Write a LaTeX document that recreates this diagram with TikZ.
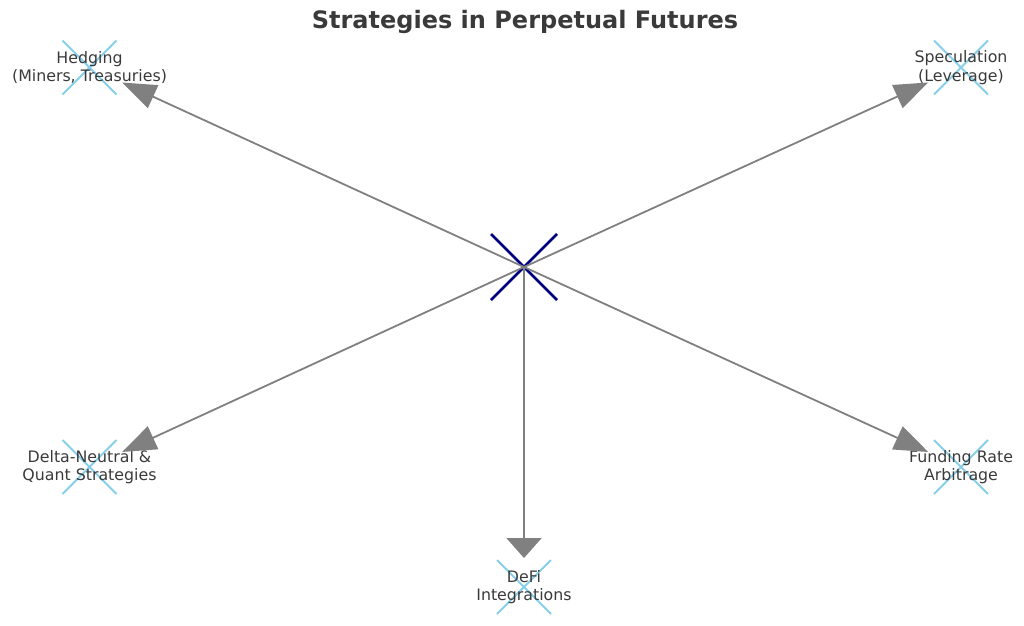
\documentclass[tikz,border=0pt]{standalone}
\usepackage{fontspec}
\setmainfont{DejaVu Sans}
\usetikzlibrary{arrows.meta}
\definecolor{pfeilgrau}{HTML}{808080}
\definecolor{textgrau}{HTML}{3A3A3A}
\definecolor{himmelblau}{HTML}{87CEEB}
\definecolor{marine}{HTML}{000080}
\begin{document}
\begin{tikzpicture}[x=1pt, y=-1pt,
    beschriftung/.style={align=center, text=textgrau, inner sep=0pt,
        font=\fontsize{15.8}{18.4}\selectfont},
    kreuz/.style={draw=himmelblau, line width=2pt},
    pfeil/.style={draw=pfeilgrau, line width=1.8pt, shorten >=36pt,
        -{Triangle[length=34pt, width=25pt, fill=pfeilgrau]}},
    pfeilunten/.style={pfeil, shorten >=29pt,
        -{Triangle[length=20pt, width=35pt, fill=pfeilgrau]}}]
    % Rahmen
    \useasboundingbox (0,0) rectangle (1024,625);
    % Titel
    \node[font=\fontsize{24}{28}\selectfont\bfseries, text=textgrau] (titel) at (525,22) {Strategies in Perpetual Futures};
    % Punkte
    \coordinate (m) at (524,267);
    \coordinate (h) at (89.5,67.5);
    \coordinate (s) at (961,67.5);
    \coordinate (d) at (89.5,467);
    \coordinate (f) at (961,467);
    \coordinate (i) at (524,587);
    % Kreuze
    \foreach \p in {h,s,d,f,i}
        \draw[kreuz, shift={(\p)}] (-27,-27) -- (27,27) (-27,27) -- (27,-27);
    \draw[draw=marine, line width=2.6pt, shift={(m)}] (-33,-33) -- (33,33) (-33,33) -- (33,-33);
    % Knoten
    \node[inner sep=0pt] (mitte) at (m) {};
    \node[beschriftung] (hedging) at (h) {Hedging\\(Miners, Treasuries)};
    \node[beschriftung] (spekulation) at (s) {Speculation\\(Leverage)};
    \node[beschriftung] (deltaneutral) at (d) {Delta-Neutral \&\\Quant Strategies};
    \node[beschriftung] (funding) at (f) {Funding Rate\\Arbitrage};
    \node[beschriftung] (defi) at (i) {DeFi\\Integrations};
    % Pfeile
    \draw[pfeil] (mitte.center) -- (hedging.center);
    \draw[pfeil] (mitte.center) -- (spekulation.center);
    \draw[pfeil] (mitte.center) -- (deltaneutral.center);
    \draw[pfeil] (mitte.center) -- (funding.center);
    \draw[pfeilunten] (mitte.center) -- (defi.center);
\end{tikzpicture}
\end{document}
